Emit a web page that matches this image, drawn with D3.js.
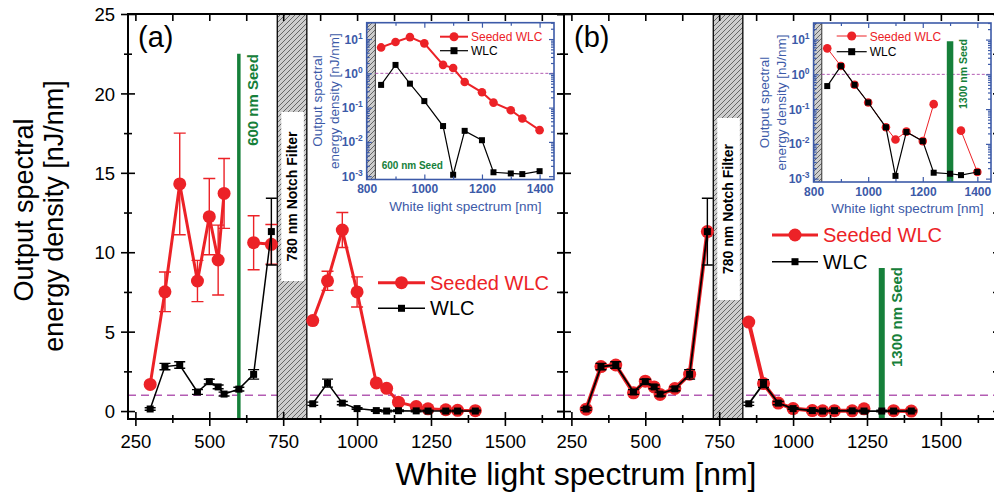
<!DOCTYPE html>
<html><head><meta charset="utf-8">
<script src="https://cdn.jsdelivr.net/npm/d3@7"></script>
<style>body{margin:0;background:#fff}svg{display:block}text{font-family:"Liberation Sans",Arial,Helvetica,sans-serif}</style>
</head><body><script>
// ---------------- data ----------------
const wavelengths = [300,350,400,460,500,530,550,600,650,710,850,900,950,1000,1065,1100,1140,1200,1240,1300,1340,1400];
// panel (a): 600 nm seed
const seededA    = [1.68,7.51,14.3,8.19,12.24,9.51,13.7,null,10.6,10.5,5.7,8.2,11.4,7.5,1.77,1.43,0.56,0.28,0.14,0.084,0.048,0.022];
const seededAErr = [0,1.25,3.2,1.3,2.4,2.2,2.2,0,1.7,1.25,0,0.6,1.1,0.95,0,0,0,0,0,0,0,0];
const wlcA       = [0.13,2.8,2.9,1.2,1.85,1.52,1.07,1.38,2.31,11.3,0.46,1.76,0.5,0.155,0.029,0.0011,0.021,0.0112,0.0013,0.0012,0.00115,0.0014];
const wlcAErr    = [0.08,0.2,0.2,0.15,0.15,0.12,0.12,0.12,0.3,2.1,0.1,0.25,0.1,0.05,0.05,0.05,0.05,0.05,0.05,0.05,0.05,0.05];
// panel (b): 1300 nm seed
const seededB    = [0.12,2.8,2.9,1.15,1.88,1.52,1.05,1.42,2.32,11.3,5.6,1.73,0.5,0.155,0.030,0.0133,0.0225,0.012,0.139,null,0.024,0.00155];
const wlcB       = [0.13,2.8,2.9,1.2,1.85,1.52,1.07,1.4,2.31,11.3,0.46,1.73,0.5,0.155,0.030,0.0012,0.022,0.012,0.00148,0.00138,0.00126,0.00155];
const wlcBErr    = [0.08,0.2,0.2,0.15,0.15,0.12,0.12,0.12,0.3,2.1,0.1,0.25,0.1,0.05,0.05,0.05,0.05,0.05,0.05,0.05,0.05,0.05];

const seriesNames = ["Seeded WLC","WLC"];
const panelLabels = ["(a)","(b)"];
const seedNm = [600,1300];
const seedLabels = ["600 nm Seed","1300 nm Seed"];
const notchNm = [730,830];
const notchLabel = "780 nm Notch Filter";
const xTickMajor = [250,500,750,1000,1250,1500];
const xTickMinor = [375,625,875,1125,1375,1625];
const yTickMajor = [0,5,10,15,20,25];
const yTickMinor = [2.5,7.5,12.5,17.5,22.5];
const insetXMajor = [800,1000,1200,1400];
const insetXMinor = [900,1100,1300];
const insetYMajor = [1e-3,1e-2,1e-1,1,10];
const insetYExp = ["-3","-2","-1","0","1"];
const insetYMult = [2,3,4,5,6,7,8,9];
const xTitle = "White light spectrum [nm]";
const yTitle = ["Output spectral","energy density [nJ/nm]"];

// ---------------- style ----------------
const RED="#ec2227", BLACK="#000", GREEN="#16803a", PURPLE="#b35cb3", BLUE="#3c5aa8";
const W=994, H=498, T=14, B=419;

const svg = d3.select("body").append("svg").attr("width",W).attr("height",H);
const defs = svg.append("defs");
const pat = defs.append("pattern").attr("id","hatch").attr("patternUnits","userSpaceOnUse").attr("width",5).attr("height",5);
pat.append("rect").attr("width",5).attr("height",5).attr("fill","#cdcdcd");
pat.append("path").attr("d","M-1,1 L1,-1 M0,5 L5,0 M4,6 L6,4").attr("stroke","#3a3a3a").attr("stroke-width",0.7);

const y = d3.scaleLinear().domain([-0.5,25]).range([B,T]);
const xA = d3.scaleLinear().domain([225,1700]).range([128,564]);
const xB = d3.scaleLinear().domain([225,1700]).range([564,1000]);

function pts(vals, errs){ return wavelengths.map((w,i)=>({w, v:vals[i], e: errs?errs[i]:0})); }

function vtext(g, x, yc, str, size, color, weight){
  g.append("text").attr("transform",`translate(${x},${yc}) rotate(-90)`)
   .attr("text-anchor","middle").attr("font-size",size).attr("font-weight",weight||"normal")
   .attr("fill",color).text(str);
}

function mainPanel(xs, cfg){
  const g = svg.append("g");
  const [L,R] = xs.range();
  g.append("line").attr("x1",L).attr("x2",R).attr("y1",y(1)).attr("y2",y(1))
   .attr("stroke",PURPLE).attr("stroke-width",1.5).attr("stroke-dasharray","8,5");
  g.append("line").attr("x1",xs(cfg.seed)).attr("x2",xs(cfg.seed)).attr("y1",y(cfg.seedTop)).attr("y2",B)
   .attr("stroke",GREEN).attr("stroke-width",cfg.seedW);
  vtext(g, cfg.seedTextX, cfg.seedTextY, cfg.seedLabel, 15, GREEN, "bold");
  const n0 = xs(notchNm[0]), n1 = xs(notchNm[1]);
  g.append("rect").attr("x",n0).attr("y",T).attr("width",n1-n0).attr("height",B-T).attr("fill","url(#hatch)");
  g.append("line").attr("x1",n0).attr("x2",n0).attr("y1",T).attr("y2",B).attr("stroke","#000").attr("stroke-width",1.3);
  g.append("line").attr("x1",n1).attr("x2",n1).attr("y1",T).attr("y2",B).attr("stroke","#000").attr("stroke-width",1.3);
  g.append("rect").attr("x",n0+4).attr("y",cfg.boxTop).attr("width",n1-n0-7).attr("height",cfg.boxBot-cfg.boxTop).attr("fill","#fff");
  vtext(g, (n0+n1)/2+5, (cfg.boxTop+cfg.boxBot)/2, notchLabel, 14, "#000", "bold");

  const line = d3.line().defined(d=>d.v!=null).x(d=>xs(d.w)).y(d=>y(d.v));
  const segs = data => [data.filter(d=>d.w<780), data.filter(d=>d.w>780)];
  function errBars(data, color, half){
    const eb = g.append("g").attr("stroke",color).attr("stroke-width",1.4).attr("fill","none");
    data.filter(d=>d.v!=null && d.e>0).forEach(d=>{
      const x=xs(d.w), y1=y(d.v+d.e), y2=y(d.v-d.e);
      eb.append("path").attr("d",`M${x},${y1}V${y2}M${x-half},${y1}H${x+half}M${x-half},${y2}H${x+half}`);
    });
  }
  const s = cfg.seeded;
  segs(s).forEach(sg=>g.append("path").attr("d",line(sg)).attr("fill","none").attr("stroke",RED).attr("stroke-width",cfg.redW));
  errBars(s, RED, 6);
  g.append("g").selectAll("circle").data(s.filter(d=>d.v!=null)).join("circle")
   .attr("cx",d=>xs(d.w)).attr("cy",d=>y(d.v)).attr("r",6.5).attr("fill",RED);
  const k = cfg.wlc;
  segs(k).forEach(sg=>g.append("path").attr("d",line(sg)).attr("fill","none").attr("stroke",BLACK).attr("stroke-width",cfg.blackW));
  errBars(k, BLACK, 5.5);
  g.append("g").selectAll("rect").data(k).join("rect")
   .attr("x",d=>xs(d.w)-3.5).attr("y",d=>y(d.v)-3.5).attr("width",7).attr("height",7).attr("fill",BLACK);

  const lg = g.append("g");
  const [lx0,lx1] = cfg.legX, [ly0,ly1] = cfg.legY;
  lg.append("line").attr("x1",lx0).attr("x2",lx1).attr("y1",ly0).attr("y2",ly0).attr("stroke",RED).attr("stroke-width",3);
  lg.append("circle").attr("cx",(lx0+lx1)/2).attr("cy",ly0).attr("r",6.5).attr("fill",RED);
  lg.append("text").attr("x",lx1+5).attr("y",ly0+7).attr("font-size",20).attr("fill",RED).text(seriesNames[0]);
  lg.append("line").attr("x1",lx0).attr("x2",lx1).attr("y1",ly1).attr("y2",ly1).attr("stroke",BLACK).attr("stroke-width",1.5);
  lg.append("rect").attr("x",(lx0+lx1)/2-3.5).attr("y",ly1-3.5).attr("width",7).attr("height",7).attr("fill",BLACK);
  lg.append("text").attr("x",lx1+5).attr("y",ly1+7).attr("font-size",20).attr("fill",BLACK).text(seriesNames[1]);

  g.append("text").attr("x",L+10).attr("y",47).attr("font-size",29).text(cfg.label);

  const fmt = d3.format("d");
  const bot = svg.append("g").attr("transform",`translate(0,${B})`)
    .call(d3.axisBottom(xs).tickValues(xTickMajor).tickSize(7).tickSizeOuter(0).tickFormat(fmt));
  bot.selectAll(".tick line").attr("y1",-7).attr("stroke-width",1.6);
  bot.selectAll(".tick text").attr("y",29).attr("dy",0).attr("font-size",18.5).attr("font-family",null);
  const botm = svg.append("g").attr("transform",`translate(0,${B})`)
    .call(d3.axisBottom(xs).tickValues(xTickMinor).tickSize(4).tickSizeOuter(0).tickFormat(""));
  botm.selectAll(".tick line").attr("y1",-4).attr("stroke-width",1.6);
  const top = svg.append("g").attr("transform",`translate(0,${T})`)
    .call(d3.axisBottom(xs).tickValues(xTickMajor.concat(xTickMinor)).tickSize(7).tickSizeOuter(0).tickFormat(""));
  top.selectAll(".tick line").attr("stroke-width",1.6);
  const left = svg.append("g").attr("transform",`translate(${L},0)`)
    .call(d3.axisLeft(y).tickValues(yTickMajor).tickSize(7).tickSizeOuter(0).tickFormat(cfg.yLabels?fmt:""));
  left.selectAll(".tick line").attr("x1",7).attr("stroke-width",1.6);
  left.selectAll(".tick text").attr("x",-13).attr("dy","0.36em").attr("font-size",18.5).attr("font-family",null);
  const leftm = svg.append("g").attr("transform",`translate(${L},0)`)
    .call(d3.axisLeft(y).tickValues(yTickMinor).tickSize(4).tickSizeOuter(0).tickFormat(""));
  leftm.selectAll(".tick line").attr("x1",4).attr("stroke-width",1.6);
  const right = svg.append("g").attr("transform",`translate(${R},0)`)
    .call(d3.axisLeft(y).tickValues(yTickMajor.concat(yTickMinor)).tickSize(7).tickSizeOuter(0).tickFormat(""));
  right.selectAll(".tick line").attr("stroke-width",1.6);
  [bot,botm,top,left,leftm,right].forEach(a=>a.select(".domain").remove());
  svg.append("rect").attr("x",L).attr("y",T).attr("width",R-L).attr("height",B-T)
    .attr("fill","none").attr("stroke","#000").attr("stroke-width",2);
}

function inset(cfg){
  const xs = d3.scaleLinear().domain([800,1450]).range(cfg.xr);
  const ys = d3.scaleLog().domain([0.0008,30]).range(cfg.yr);
  const [L,R] = cfg.xr, [Bt,Tp] = cfg.yr;
  const g = svg.append("g");
  g.append("rect").attr("x",L).attr("y",Tp).attr("width",R-L).attr("height",Bt-Tp).attr("fill","#fff");
  g.append("rect").attr("x",xs(800)).attr("y",Tp).attr("width",xs(830)-xs(800)).attr("height",Bt-Tp).attr("fill","url(#hatch)");
  g.append("line").attr("x1",xs(830)).attr("x2",xs(830)).attr("y1",Tp).attr("y2",Bt).attr("stroke","#333").attr("stroke-width",1);
  g.append("line").attr("x1",xs(830)).attr("x2",R).attr("y1",ys(1)).attr("y2",ys(1))
   .attr("stroke",PURPLE).attr("stroke-width",1).attr("stroke-dasharray","3,2");
  if(cfg.seedBar){
    g.append("line").attr("x1",xs(1300)).attr("x2",xs(1300)).attr("y1",ys(cfg.seedBar)).attr("y2",Bt)
     .attr("stroke",GREEN).attr("stroke-width",6.5);
    vtext(g, cfg.seedTextX, cfg.seedTextY, cfg.seedText, 10.5, GREEN, "bold");
  } else {
    g.append("text").attr("x",cfg.seedTextX).attr("y",cfg.seedTextY).attr("font-size",10).attr("font-weight","bold")
     .attr("fill",GREEN).text(cfg.seedText);
  }
  const line = d3.line().defined(d=>d.v!=null).x(d=>xs(d.w)).y(d=>ys(d.v));
  const s = cfg.seeded.filter(d=>d.w>780), k = cfg.wlc.filter(d=>d.w>780);
  g.append("path").attr("d",line(s)).attr("fill","none").attr("stroke",RED).attr("stroke-width",cfg.redW);
  g.append("g").selectAll("circle").data(s.filter(d=>d.v!=null)).join("circle")
   .attr("cx",d=>xs(d.w)).attr("cy",d=>ys(d.v)).attr("r",4.3).attr("fill",RED);
  g.append("path").attr("d",line(k)).attr("fill","none").attr("stroke",BLACK).attr("stroke-width",1.2);
  g.append("g").selectAll("rect").data(k).join("rect")
   .attr("x",d=>xs(d.w)-3).attr("y",d=>ys(d.v)-3).attr("width",6).attr("height",6).attr("fill",BLACK);
  const [lx0,lx1] = cfg.legX, [ly0,ly1]=cfg.legY;
  g.append("line").attr("x1",lx0).attr("x2",lx1).attr("y1",ly0).attr("y2",ly0).attr("stroke",RED).attr("stroke-width",cfg.redW);
  g.append("circle").attr("cx",(lx0+lx1)/2).attr("cy",ly0).attr("r",4.5).attr("fill",RED);
  g.append("text").attr("x",lx1+3).attr("y",ly0+4.5).attr("font-size",12).attr("fill",RED).text(seriesNames[0]);
  g.append("line").attr("x1",lx0).attr("x2",lx1).attr("y1",ly1).attr("y2",ly1).attr("stroke",BLACK).attr("stroke-width",1.2);
  g.append("rect").attr("x",(lx0+lx1)/2-3.5).attr("y",ly1-3.5).attr("width",7).attr("height",7).attr("fill",BLACK);
  g.append("text").attr("x",lx1+3).attr("y",ly1+4.5).attr("font-size",12).attr("fill",BLACK).text(seriesNames[1]);

  const minorY = [];
  insetYMajor.forEach(d=>insetYMult.forEach(m=>{ const v=d*m; if(v<=30) minorY.push(v); }));
  const style = a => { a.select(".domain").remove(); a.selectAll(".tick line").attr("stroke",BLUE).attr("stroke-width",1.2); };
  const xb = svg.append("g").attr("transform",`translate(0,${Bt})`).call(d3.axisBottom(xs).tickValues(insetXMajor).tickSize(-5).tickFormat(d3.format("d")));
  style(xb);
  xb.selectAll(".tick text").attr("y",13.5).attr("dy",0).attr("fill",BLUE).attr("font-size",12).attr("font-weight","bold").attr("font-family",null);
  style(svg.append("g").attr("transform",`translate(0,${Bt})`).call(d3.axisBottom(xs).tickValues(insetXMinor).tickSize(-3).tickFormat("")));
  style(svg.append("g").attr("transform",`translate(0,${Tp})`).call(d3.axisBottom(xs).tickValues(insetXMajor).tickSize(5).tickFormat("")));
  style(svg.append("g").attr("transform",`translate(0,${Tp})`).call(d3.axisBottom(xs).tickValues(insetXMinor).tickSize(3).tickFormat("")));
  style(svg.append("g").attr("transform",`translate(${L},0)`).call(d3.axisLeft(ys).tickValues(insetYMajor).tickSize(-5).tickFormat("")));
  style(svg.append("g").attr("transform",`translate(${L},0)`).call(d3.axisLeft(ys).tickValues(minorY).tickSize(-3).tickFormat("")));
  style(svg.append("g").attr("transform",`translate(${R},0)`).call(d3.axisLeft(ys).tickValues(insetYMajor).tickSize(5).tickFormat("")));
  style(svg.append("g").attr("transform",`translate(${R},0)`).call(d3.axisLeft(ys).tickValues(minorY).tickSize(3).tickFormat("")));
  insetYMajor.forEach((v,i)=>{
    const t = svg.append("text").attr("x",L-4).attr("y",ys(v)+4.5).attr("text-anchor","end")
      .attr("font-size",12).attr("font-weight","bold").attr("fill",BLUE);
    t.append("tspan").text("10");
    t.append("tspan").attr("dy",-5).attr("font-size",8.5).text(insetYExp[i]);
  });
  svg.append("rect").attr("x",L).attr("y",Tp).attr("width",R-L).attr("height",Bt-Tp)
    .attr("fill","none").attr("stroke",BLUE).attr("stroke-width",1.6);
  svg.append("text").attr("x",(L+R)/2+5).attr("y",Bt+31).attr("text-anchor","middle").attr("font-size",13.5)
    .attr("fill",BLUE).text(xTitle);
  vtext(svg, L-45, (Tp+Bt)/2, yTitle[0], 13.5, BLUE);
  vtext(svg, L-28, (Tp+Bt)/2, yTitle[1], 13.5, BLUE);
}

const pa = {seeded: pts(seededA, seededAErr), wlc: pts(wlcA, wlcAErr)};
const pb = {seeded: pts(seededB, null), wlc: pts(wlcB, wlcBErr)};

mainPanel(xA, {seed:seedNm[0], seedTop:22.5, seedW:3.5, seedLabel:seedLabels[0], seedTextX:257.5, seedTextY:100,
  boxTop:112, boxBot:281, seeded:pa.seeded, wlc:pa.wlc, redW:3, blackW:1.5,
  legX:[378,425], legY:[282.7,308.3], label:panelLabels[0], yLabels:true});
mainPanel(xB, {seed:seedNm[1], seedTop:9.0, seedW:6, seedLabel:seedLabels[1], seedTextX:902, seedTextY:317,
  boxTop:118, boxBot:300, seeded:pb.seeded, wlc:pb.wlc, redW:4, blackW:1.8,
  legX:[772,818], legY:[235,261.7], label:panelLabels[1], yLabels:false});

inset({xr:[366.7,554], yr:[179.5,22.7], seeded:pa.seeded, wlc:pa.wlc, redW:2,
  seedText:seedLabels[0], seedTextX:381.7, seedTextY:168.5, legX:[440,468], legY:[36.7,50.7]});
inset({xr:[813.6,991], yr:[182,23], seeded:pb.seeded, wlc:pb.wlc, redW:1, seedBar:9,
  seedText:seedLabels[1], seedTextX:966.5, seedTextY:74, legX:[836.7,866.7], legY:[36,51.7]});

svg.append("text").attr("x",576).attr("y",485).attr("text-anchor","middle").attr("font-size",32).text(xTitle);
vtext(svg, 33, 210, yTitle[0], 27, "#000");
vtext(svg, 63, 216, yTitle[1], 27, "#000");
</script></body></html>
